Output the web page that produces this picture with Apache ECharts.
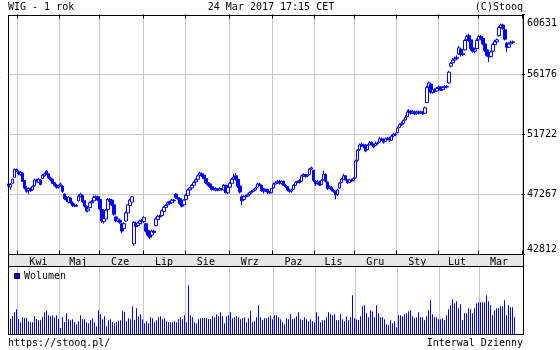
<!DOCTYPE html>
<html><head><meta charset="utf-8">
<script src="https://cdn.jsdelivr.net/npm/echarts@6/dist/echarts.min.js"></script>
<style>html,body{margin:0;padding:0;background:#fff}#c{width:560px;height:350px}</style>
</head><body><div id="c"></div>
<script>
const titleLeft = 'WIG - 1 rok';
const titleMid = '24 Mar 2017 17:15 CET';
const titleRight = '(C)Stooq';
const footerLeft = 'https://stooq.pl/';
const footerRight = 'Interwal Dzienny';
const legendName = 'Wolumen';
const yTicks = [42812, 47267, 51722, 56176, 60631];
const monthNames = ['Sty','Lut','Mar','Kwi','Maj','Cze','Lip','Sie','Wrz','Paz','Lis','Gru'];
const holidays = ['2016-03-25','2016-03-28','2016-05-03','2016-05-26','2016-08-15','2016-11-01','2016-11-11','2016-12-26','2017-01-06'];
const firstDay = '2016-03-23';
const lastDay = '2017-03-30';

const opens = [48050,
47810,48110,48550,49120,48960,48750,48850,48300,47750,47550,
47700,47600,47900,48350,48150,48350,48450,48650,49000,48800,
48500,48400,48150,47950,47800,47950,47900,47300,47000,46700,
47000,46650,46500,46400,46800,47150,47200,46800,46400,46050,
46300,46650,46800,47050,47100,46900,46150,45250,45450,46150,
46900,46850,46500,45600,45300,45350,45100,44750,45300,45900,
46450,46700,43600,45100,44950,45100,45350,45250,45100,44600,
44350,44250,44550,44950,45400,45650,45700,46000,46300,46500,
46750,46650,46850,47300,47050,46950,46700,46500,46900,47200,
47600,47750,47950,48200,48400,48700,48800,48700,48450,48150,
48050,47850,47700,47600,47650,47600,47700,47600,47950,47400,
47800,48100,48400,48650,48400,47900,47100,46900,47100,47150,
47250,47400,47500,47600,47800,48050,47950,47700,47550,47650,
47450,47400,47750,48050,48150,48250,48100,48250,47950,47850,
47600,47500,47650,47950,48150,48300,48250,48650,48750,48650,
48750,49150,49050,48250,48100,48200,48000,48350,48750,48200,
47750,47800,47600,47450,47250,47750,48150,48400,48650,48350,
48150,48350,48300,48500,49800,50600,50900,50950,50950,50600,
50950,51150,50950,50900,51050,51150,51400,51350,51200,51400,
51450,51300,51600,51700,51850,52250,52450,52550,52800,53050,
53400,53450,53300,53400,53300,53400,53350,53350,53300,54100,
55250,55450,54850,55050,54950,55150,55250,55050,55200,55300,
55550,56800,57050,57250,57350,57700,58050,57650,58000,58750,
59050,58750,58150,57900,58100,58750,59000,58850,58450,58000,
57600,57500,57900,58400,58600,59050,59650,59850,59500,58500,
58200,58450,58550];

const closes = [47900,
48010,48400,49120,49000,48780,48920,48250,47750,47500,47700,
47550,47850,48350,48250,48400,48000,48700,48800,48750,48500,
48350,48100,47950,47800,47900,48050,47500,46950,46850,47050,
46650,46450,46400,46450,47150,47300,46750,46400,46050,46200,
46650,46750,47050,47100,46850,46200,45300,45500,46100,46900,
46750,46500,45800,45300,45450,45200,44550,45100,45900,46500,
46850,47100,45200,44900,45150,45300,45250,45550,44550,44250,
44100,44550,44450,45450,45650,45600,46050,46300,46450,46650,
46600,46850,46800,47050,46950,46600,46400,46850,47200,47600,
47750,47950,48150,48350,48650,48850,48650,48450,48150,48000,
47850,47650,47650,47700,47600,47700,47650,47950,47400,47800,
48100,48400,48550,48400,47850,47450,46800,47100,47150,47250,
47400,47500,47600,47750,48050,48000,47550,47500,47650,47450,
47400,47700,48050,48150,48250,48100,48250,47950,47850,47600,
47500,47600,47950,48150,48250,48150,48650,48750,48600,48700,
49150,49250,48300,48050,48200,47950,48300,48750,48250,47700,
47850,47600,47500,47250,47600,48100,48400,48650,48350,48150,
48350,48250,48450,49750,50550,50950,51000,50850,50500,50900,
51100,50950,50800,51050,51100,51400,51350,51150,51400,51450,
51300,51600,51750,51750,52200,52450,52550,52750,53000,53400,
53450,53300,53400,53250,53400,53300,53400,53250,53700,55200,
55550,54850,55050,54900,55150,55250,55000,55200,55300,55250,
56350,57000,57250,57350,57450,58150,57650,57750,58700,59000,
58700,58100,57900,58000,58700,59000,58850,58450,57950,57600,
57500,57850,58400,58600,58750,59650,59850,59600,58800,58200,
58450,58550,58600];

const highs = [48150,
48110,48450,49200,49200,49050,49000,48900,48350,47900,47800,
47800,47950,48450,48450,48500,48400,48800,48900,49100,48850,
48600,48450,48200,48050,48000,48150,47950,47350,47150,47150,
47050,46750,46600,46550,47250,47400,47250,46850,46450,46300,
46750,46850,47200,47200,47200,46950,46200,45600,46200,47000,
47000,46950,46550,45700,45550,45450,45150,45200,46000,46550,
46950,47150,45300,45250,45250,45400,45450,45650,45150,44700,
44450,44650,44650,45550,45750,45750,46150,46400,46550,46750,
46800,46950,46950,47350,47150,47000,46750,46900,47300,47700,
47850,48050,48250,48450,48750,48950,48900,48800,48500,48250,
48100,47950,47800,47800,47700,47800,47750,48050,48000,47900,
48200,48500,48800,48850,48450,47950,47200,47200,47250,47350,
47500,47600,47700,47850,48150,48150,48000,47750,47700,47700,
47550,47750,48150,48250,48350,48350,48300,48300,48050,47900,
47700,47700,48050,48250,48300,48400,48750,48850,48800,48750,
49250,49350,49100,48350,48350,48300,48400,49050,48850,48250,
47950,47900,47700,47550,47700,48200,48500,48800,48700,48400,
48450,48450,48550,49850,50650,51050,51150,51050,51000,51000,
51250,51200,51050,51200,51200,51550,51500,51450,51500,51550,
51550,51700,51850,51850,52300,52550,52700,52850,53150,53550,
53600,53550,53550,53500,53500,53500,53500,53450,53800,55350,
55650,55500,55150,55150,55250,55350,55300,55300,55400,55400,
56450,57100,57400,57500,57600,58300,58100,57900,58800,59150,
59200,58800,58250,58150,58850,59100,59100,58900,58500,58050,
57700,57950,58500,58750,58850,59750,59950,59950,59600,58600,
58550,58700,58700];

const lows = [47800,
47610,48050,48500,48950,48700,48650,48200,47650,47400,47300,
47450,47550,47850,48150,48100,47950,48400,48600,48700,48400,
48250,48050,47850,47700,47700,47850,47400,46850,46700,46600,
46550,46350,46350,46350,46750,47050,46650,46300,45950,45950,
46250,46550,46750,46950,46800,46100,45150,45100,45400,46100,
46650,46400,45700,45200,45200,45100,44400,44650,45250,45850,
46400,46650,43450,44750,44850,45000,45050,45150,44450,44150,
43950,44150,44350,44900,45300,45500,45650,45950,46200,46400,
46500,46550,46700,46950,46900,46500,46300,46450,46850,47150,
47500,47700,47900,48100,48350,48600,48550,48400,48050,47900,
47750,47550,47550,47500,47500,47550,47550,47550,47350,47300,
47750,48050,48350,48300,47750,47350,46450,46850,47000,47100,
47200,47350,47450,47550,47750,47900,47450,47350,47450,47300,
47300,47350,47700,48000,48050,48000,48000,47900,47750,47500,
47400,47400,47600,47900,48100,48100,48200,48600,48500,48550,
48700,49100,48200,47900,48000,47900,47950,48300,48150,47600,
47650,47500,47400,46900,47150,47700,48100,48350,48300,48050,
48100,48200,48250,48450,49700,50500,50800,50700,50400,50550,
50900,50900,50700,50850,50950,51100,51250,51050,51150,51300,
51150,51250,51550,51600,51800,52200,52350,52450,52750,53000,
53300,53200,53250,53150,53200,53200,53250,53150,53250,54050,
55100,54750,54750,54800,54900,55050,54950,55000,55150,55150,
55500,56700,57000,57150,57250,57650,57500,57550,57950,58700,
58600,57950,57800,57750,58050,58700,58750,58350,57850,57500,
57100,57450,57850,58350,58500,59000,59550,59500,58700,57850,
58150,58400,58450];

const volumes = [45,
45,53,65,74,45,35,50,48,48,38,
35,35,53,45,41,41,50,65,71,56,
53,56,50,56,45,18,50,36,62,44,
41,44,36,29,38,56,44,44,35,32,
41,47,35,23,71,59,44,53,23,41,
44,35,32,35,40,41,68,65,38,47,
44,83,41,77,53,59,44,32,38,32,
50,47,35,41,50,53,44,47,38,35,
35,35,38,35,44,50,44,56,35,146,
56,50,35,32,44,47,48,47,47,45,
45,53,50,59,53,65,53,32,53,56,
65,47,50,53,50,44,47,50,35,47,
68,35,38,50,86,50,41,47,47,50,
55,44,56,56,50,44,35,29,47,44,
59,44,47,53,65,44,41,50,44,38,
44,38,35,65,53,35,41,41,50,65,
59,56,59,41,41,59,44,38,52,41,
50,116,47,44,41,53,83,86,62,50,
71,68,50,86,62,50,50,44,29,26,
41,32,38,20,56,56,53,59,62,68,
71,53,47,50,65,50,50,41,53,71,
101,59,50,50,44,44,47,41,56,74,
86,104,92,98,77,89,41,62,62,77,
74,62,77,92,95,95,95,95,116,98,
86,56,71,77,77,83,83,101,56,86,
80,80,50];

function buildTradingDays(from, to, hol) {
  const out = [];
  const hs = new Set(hol);
  const d = new Date(from + 'T00:00:00Z');
  const end = new Date(to + 'T00:00:00Z');
  while (d <= end) {
    const wd = d.getUTCDay();
    const s = d.toISOString().slice(0, 10);
    if (wd !== 0 && wd !== 6 && !hs.has(s)) out.push(s);
    d.setUTCDate(d.getUTCDate() + 1);
  }
  return out;
}
const dates = buildTradingDays(firstDay, lastDay, holidays);

const monthStart = new Set();
const labelIdx = new Set();
let gStart = 0;
for (let i = 1; i <= dates.length; i++) {
  if (i === dates.length || dates[i].slice(0, 7) !== dates[i - 1].slice(0, 7)) {
    if (gStart > 0) labelIdx.add(Math.floor((gStart + i - 1) / 2));
    if (i < dates.length) monthStart.add(i);
    gStart = i;
  }
}

const candles = opens.map((o, i) => [o, closes[i], lows[i], highs[i]]);
const FONT = 'DejaVu Sans Mono';
const GRID = '#c8c8c8';
const BLUE = '#0000ff';

const chart = echarts.init(document.getElementById('c'), null, {renderer: 'canvas'});
const txt = (text, x, y, align) => ({
  type: 'text', silent: true, z: 60,
  style: {text, x, y, fill: '#000', font: '10px "' + FONT + '"',
    align, textAlign: align, verticalAlign: 'middle', textVerticalAlign: 'middle'}
});
const ln = (x1, y1, x2, y2) => ({type: 'line', silent: true, z: 50,
  shape: {x1, y1, x2, y2}, style: {stroke: '#000', lineWidth: 1}});

chart.setOption({
  animation: false,
  backgroundColor: '#fff',
  grid: [
    {left: 7.5, top: 14.5, width: 516, height: 240},
    {left: 7.5, top: 266.5, width: 516, height: 67.5}
  ],
  xAxis: [
    {type: 'category', gridIndex: 0, data: dates, boundaryGap: true, position: 'bottom',
     axisLine: {show: false},
     axisTick: {show: true, inside: true, length: 4, interval: (i) => monthStart.has(i), lineStyle: {color: '#000'}},
     splitLine: {show: true, interval: (i) => monthStart.has(i), lineStyle: {color: GRID, width: 1}},
     axisLabel: {show: true, interval: (i) => labelIdx.has(i), margin: 3,
       formatter: (v) => monthNames[parseInt(v.slice(5, 7), 10) - 1],
       color: '#000', fontFamily: FONT, fontSize: 10}},
    {type: 'category', gridIndex: 0, data: dates, boundaryGap: true, position: 'top',
     axisLine: {show: false}, axisLabel: {show: false}, splitLine: {show: false},
     axisTick: {show: true, inside: true, length: 4, interval: (i) => monthStart.has(i), lineStyle: {color: '#000'}}},
    {type: 'category', gridIndex: 1, data: dates, boundaryGap: true,
     axisLine: {show: false}, axisLabel: {show: false}, axisTick: {show: false},
     splitLine: {show: true, interval: (i) => monthStart.has(i), lineStyle: {color: GRID, width: 1}}}
  ],
  yAxis: [
    {type: 'value', gridIndex: 0, min: yTicks[0], max: yTicks[yTicks.length - 1], show: false, splitLine: {show: false}},
    {type: 'value', gridIndex: 0, min: 0, max: yTicks.length - 1, interval: 1, position: 'right',
     axisLine: {show: false},
     axisTick: {show: true, inside: false, length: 3, lineStyle: {color: '#000'}},
     splitLine: {show: true, showMinLine: false, showMaxLine: false, lineStyle: {color: GRID, width: 1}},
     axisLabel: {show: true, margin: 5, color: '#000', fontFamily: FONT, fontSize: 10,
       verticalAlignMinLabel: 'bottom', verticalAlignMaxLabel: 'top',
       rich: {top: {fontFamily: FONT, fontSize: 10, color: '#000', padding: [4, 0, 0, 0]}},
       formatter: (v) => {
         const k = Math.round(v);
         return k === yTicks.length - 1 ? '{top|' + yTicks[k] + '}' : String(yTicks[k]);
       }}},
    {type: 'value', gridIndex: 1, min: 0, max: 202.5, show: false, splitLine: {show: false}}
  ],
  series: [
    {type: 'candlestick', name: titleLeft, xAxisIndex: 0, yAxisIndex: 0, data: candles,
     barWidth: 3,
     itemStyle: {color: '#ffffff', color0: BLUE, borderColor: BLUE, borderColor0: BLUE, borderWidth: 1}},
    {type: 'bar', name: legendName, xAxisIndex: 2, yAxisIndex: 2, data: volumes,
     barWidth: 1, itemStyle: {color: BLUE}}
  ],
  graphic: [
    {type: 'rect', silent: true, z: -10, shape: {x: 8, y: 255, width: 515, height: 11}, style: {fill: '#e6e6e6'}},
    ln(8.5, 15, 8.5, 335),
    ln(523.5, 15, 523.5, 335),
    ln(8, 15.5, 524, 15.5),
    ln(8, 254.5, 524, 254.5),
    ln(8, 266.5, 524, 266.5),
    ln(8, 334.5, 524, 334.5),
    {type: 'rect', silent: true, z: 60, shape: {x: 14.5, y: 273.5, width: 5, height: 5}, style: {fill: BLUE, stroke: '#000', lineWidth: 1}},
    txt(legendName, 24, 276.5, 'left'),
    txt(titleLeft, 8, 7, 'left'),
    txt(titleMid, 271, 7, 'center'),
    txt(titleRight, 523, 7, 'right'),
    txt(footerLeft, 8, 343, 'left'),
    txt(footerRight, 523, 343, 'right')
  ]
});
</script></body></html>
